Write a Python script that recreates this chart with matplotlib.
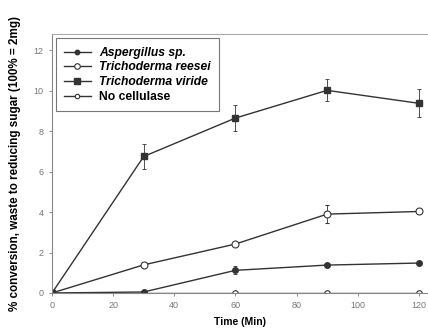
import matplotlib.pyplot as plt
import matplotlib.ticker as mticker

time = [0, 30, 60, 90, 120]

aspergillus = [0.0, 0.05, 1.12, 1.38, 1.48]
aspergillus_err = [0.0, 0.0, 0.2, 0.0, 0.0]

reesei = [0.0, 1.39, 2.42, 3.9, 4.03]
reesei_err = [0.0, 0.0, 0.0, 0.45, 0.0]

viride = [0.0, 6.75, 8.65, 10.02, 9.38]
viride_err = [0.0, 0.6, 0.65, 0.55, 0.7]

no_cellulase = [0.0, 0.0, 0.0, 0.0, 0.0]

labels = ['Aspergillus sp.', 'Trichoderma reesei', 'Trichoderma viride', 'No cellulase']

plt.rcParams['font.family'] = ['Liberation Sans', 'DejaVu Sans']

fig = plt.figure(figsize=[4.28, 3.34], dpi=100)
ax = fig.add_axes([0.1215, 0.1228, 0.8785, 0.775])

lc = '#333333'
kw = dict(color=lc, linewidth=1.0, capsize=1.5, elinewidth=0.6, capthick=0.6)

ha = ax.errorbar(time, aspergillus, yerr=aspergillus_err, marker='o', markersize=4,
                 markerfacecolor=lc, markeredgecolor=lc, **kw)
hr = ax.errorbar(time, reesei, yerr=reesei_err, marker='o', markersize=5,
                 markerfacecolor='white', markeredgecolor=lc, markeredgewidth=0.8, **kw)
hv = ax.errorbar(time, viride, yerr=viride_err, marker='s', markersize=5,
                 markerfacecolor=lc, markeredgecolor=lc, **kw)
hn, = ax.plot(time, no_cellulase, marker='o', markersize=4, color=lc, linewidth=1.0,
              markerfacecolor='white', markeredgecolor=lc, markeredgewidth=0.8)

ax.set_xlim(0, 123)
ax.set_ylim(0, 12.8)

ax.xaxis.set_major_locator(mticker.MultipleLocator(20))
ax.yaxis.set_major_locator(mticker.MultipleLocator(2))
ax.tick_params(labelsize=6.5, colors='#777777', length=2, width=0.6, pad=4)

for side in ['left', 'bottom']:
    ax.spines[side].set_color('#888888')
    ax.spines[side].set_linewidth(0.8)
ax.spines['top'].set_color('#aaaaaa')
ax.spines['top'].set_linewidth(0.8)
ax.spines['right'].set_visible(False)

ax.set_xlabel('Time (Min)', fontsize=7.5, fontweight='bold', labelpad=5)
ax.set_ylabel('% conversion, waste to reducing sugar (100% = 2mg)', fontsize=8.4,
              fontweight='bold', labelpad=9)

leg = ax.legend([ha[0], hr[0], hv[0], hn], labels, loc='upper left',
                bbox_to_anchor=(0.003, 0.993), fontsize=8.7, frameon=True, fancybox=False,
                handlelength=2.2, handletextpad=0.7, labelspacing=0.22, borderpad=0.7,
                borderaxespad=0.2, markerscale=0.8)
leg.get_frame().set_edgecolor('#555555')
leg.get_frame().set_linewidth(0.8)
for i, t in enumerate(leg.get_texts()):
    t.set_fontweight('bold')
    if i < 3:
        t.set_fontstyle('italic')

fig.savefig('out.png', dpi=100)
